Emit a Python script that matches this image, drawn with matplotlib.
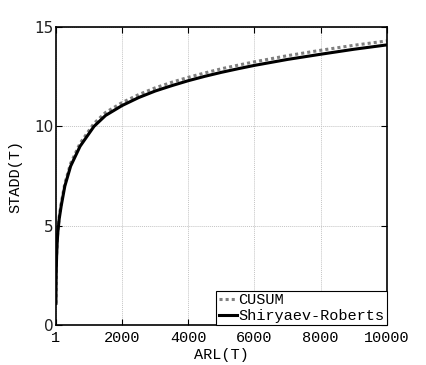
import numpy as np
import matplotlib
matplotlib.use("Agg")
import matplotlib.pyplot as plt

# values
arl = [1, 5, 10, 20, 40, 60, 100, 160, 270, 445, 730, 1150, 1500, 2000, 2500, 3000,
       3500, 4000, 4500, 5000, 5500, 6000, 7000, 8000, 9000, 10000]
sr = [1.1, 1.9, 2.6, 3.4, 4.2, 4.7, 5.35, 6.0, 7.0, 8.0, 9.0, 10.0, 10.55, 11.05, 11.45, 11.78,
      12.05, 12.3, 12.52, 12.72, 12.9, 13.07, 13.37, 13.63, 13.88, 14.1]
cusum = [1.1, 1.95, 2.7, 3.5, 4.3, 4.8, 5.47, 6.13, 7.13, 8.14, 9.15, 10.15, 10.7, 11.2, 11.6, 11.94,
         12.22, 12.47, 12.69, 12.9, 13.08, 13.25, 13.56, 13.83, 14.08, 14.3]
xticks = [1, 2000, 4000, 6000, 8000, 10000]
yticks = [0, 5, 10, 15]

mono = "Liberation Mono"

fig = plt.figure(figsize=(4.27, 3.65), dpi=100)
ax = fig.add_axes([0.131, 0.109, 0.775, 0.817])

ax.plot(arl, cusum, color="#808080", linestyle=(0, (1, 1)), linewidth=2.2, label="CUSUM")
ax.plot(arl, sr, color="black", linewidth=2.2, label="Shiryaev-Roberts")

ax.set_xlim(1, 10000)
ax.set_ylim(0, 15)
ax.set_xticks(xticks)
ax.set_xticklabels([str(t) for t in xticks], family=mono, fontsize=11)
ax.set_yticks(yticks)
ax.set_yticklabels([str(t) for t in yticks], family="DejaVu Sans", fontsize=11, color="#222222")
ax.tick_params(direction="in", top=True, right=True, length=4, width=0.8)
ax.tick_params(axis="x", pad=4)
ax.tick_params(axis="y", pad=2)
ax.grid(True, color="#c4c4c4", linestyle=(0, (1, 1)), linewidth=0.7)
for s in ax.spines.values():
    s.set_linewidth(1.2)

ax.set_xlabel("ARL(T)", family=mono, fontsize=11, labelpad=2)
ax.set_ylabel("STADD(T)", family=mono, fontsize=11, labelpad=8)

leg = ax.legend(loc="lower right", prop={"family": mono, "size": 11}, fancybox=False,
                framealpha=1, edgecolor="black", borderaxespad=0, handlelength=1.2,
                handletextpad=0.1, borderpad=0.15, labelspacing=0.1)
leg.get_frame().set_linewidth(0.8)

fig.savefig("out.png", dpi=100)
